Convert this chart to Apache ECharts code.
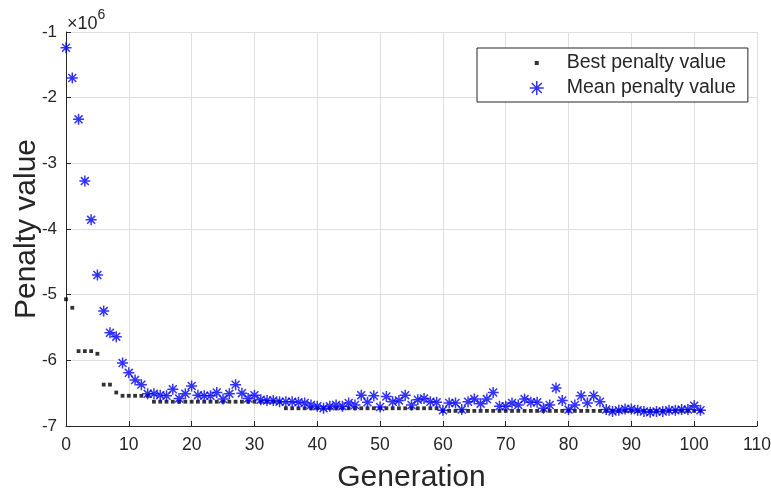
<!DOCTYPE html>
<html>
<head>
<meta charset="utf-8">
<script src="https://cdn.jsdelivr.net/npm/echarts@6/dist/echarts.min.js"></script>
<style>html,body{margin:0;padding:0;background:#fff}#c{width:771px;height:490px}</style>
</head>
<body>
<div id="c"></div>
<script>
// values in units of 1e6
const bestPenalty = [
  -5.07, -5.20, -5.86, -5.86, -5.86, -5.90, -6.37, -6.37, -6.49,
  -6.54, -6.54, -6.54, -6.54, -6.54,
  -6.63, -6.63, -6.63, -6.63, -6.63, -6.63, -6.63, -6.63, -6.63, -6.63, -6.63,
  -6.63, -6.63, -6.63, -6.63, -6.63, -6.63, -6.63, -6.63, -6.63, -6.63,
  -6.73, -6.73, -6.73, -6.73, -6.73, -6.73, -6.73, -6.73, -6.73, -6.73, -6.73, -6.73, -6.73,
  -6.73, -6.73, -6.73, -6.73, -6.73, -6.73, -6.73, -6.73, -6.73, -6.73, -6.73, -6.73,
  -6.77, -6.77, -6.77, -6.77, -6.77, -6.77, -6.77, -6.77, -6.77, -6.77, -6.77, -6.77, -6.77, -6.77,
  -6.77, -6.77, -6.77, -6.77, -6.77, -6.77, -6.77, -6.77, -6.77, -6.77, -6.77, -6.77, -6.77, -6.77,
  -6.77, -6.77, -6.77, -6.77, -6.77, -6.77, -6.77, -6.77, -6.77, -6.77, -6.77, -6.77, -6.77, -6.77
];
const meanPenalty = [
  -1.24, -1.70, -2.33, -3.27, -3.86, -4.70, -5.25, -5.58, -5.64, -6.04,
  -6.19, -6.30, -6.37, -6.51, -6.51, -6.53, -6.54, -6.44, -6.58, -6.51,
  -6.39, -6.53, -6.54, -6.54, -6.49, -6.59, -6.51, -6.37, -6.50, -6.58,
  -6.53, -6.60, -6.61, -6.61, -6.63, -6.63, -6.63, -6.64, -6.65, -6.68,
  -6.70, -6.73, -6.70, -6.68, -6.70, -6.65, -6.68, -6.53, -6.64, -6.54,
  -6.71, -6.55, -6.63, -6.61, -6.53, -6.68, -6.60, -6.58, -6.63, -6.64,
  -6.76, -6.65, -6.65, -6.75, -6.63, -6.59, -6.66, -6.59, -6.49, -6.70,
  -6.70, -6.65, -6.68, -6.59, -6.64, -6.64, -6.73, -6.68, -6.42, -6.61,
  -6.75, -6.68, -6.54, -6.65, -6.54, -6.63, -6.75, -6.78, -6.76, -6.74,
  -6.74, -6.76, -6.78, -6.79, -6.78, -6.78, -6.76, -6.76, -6.75, -6.75,
  -6.69, -6.76
];
const scale = 1e6;
const xTicks = { min: 0, max: 110, interval: 10 };
const yTicks = { min: -7, max: -1, interval: 1 };
const seriesNames = ['Best penalty value', 'Mean penalty value'];

const toPairs = arr => arr.map((v, i) => [i, v * scale]);
const txt = '#262626';
const fontFam = '"Liberation Sans", Arial, Helvetica, sans-serif';
const asterisk = 'path://M0,-5L0,5M-5,0L5,0M-3.6,-3.6L3.6,3.6M-3.6,3.6L3.6,-3.6';
const smallSquare = 'path://M-7,-7M7,7M-2,-2L2,-2L2,2L-2,2Z';

const chart = echarts.init(document.getElementById('c'), null, { renderer: 'canvas' });
chart.setOption({
  animation: false,
  backgroundColor: '#fff',
  textStyle: { fontFamily: fontFam },
  grid: { left: 66, right: 14, top: 32, bottom: 64, containLabel: false, outerBoundsMode: 'none' },
  legend: {
    orient: 'vertical',
    left: 477, top: 48,
    padding: [5, 12, 4, 52],
    itemWidth: 50, itemHeight: 14, itemGap: 5,
    backgroundColor: '#fff',
    borderColor: txt, borderWidth: 1,
    textStyle: { color: txt, fontSize: 19.5, fontFamily: fontFam },
    data: [
      { name: seriesNames[0], icon: smallSquare, itemStyle: { color: '#000', borderWidth: 0 } },
      { name: seriesNames[1], icon: asterisk, itemStyle: { color: 'rgba(0,0,0,0)', borderColor: '#0000ff', borderWidth: 1.5 } }
    ]
  },
  graphic: [{
    type: 'text', left: 67, top: 8,
    style: {
      rich: {
        a: { fontSize: 18, fill: txt, fontFamily: fontFam, padding: [7, 0, 0, 0] },
        b: { fontSize: 14, fill: txt, fontFamily: fontFam, verticalAlign: 'top' }
      },
      text: '{a|×10}{b|6}'
    }
  }],
  xAxis: {
    type: 'value', min: xTicks.min, max: xTicks.max, interval: xTicks.interval,
    name: 'Generation', nameLocation: 'middle', nameGap: 37,
    nameTextStyle: { color: txt, fontSize: 30, fontFamily: fontFam },
    axisLine: { show: true, onZero: false, lineStyle: { color: txt, width: 1 } },
    axisTick: { show: true, inside: true, length: 5, lineStyle: { color: txt } },
    axisLabel: { color: txt, fontSize: 17.5, margin: 10, fontFamily: fontFam },
    splitLine: { show: true, lineStyle: { color: '#dfdfdf', width: 1 } }
  },
  yAxis: {
    type: 'value', min: yTicks.min * scale, max: yTicks.max * scale, interval: yTicks.interval * scale,
    name: 'Penalty value', nameLocation: 'middle', nameGap: 24, nameMoveOverlap: false,
    nameTextStyle: { color: txt, fontSize: 30, fontFamily: fontFam },
    axisLine: { show: true, onZero: false, lineStyle: { color: txt, width: 1 } },
    axisTick: { show: true, inside: true, length: 5, lineStyle: { color: txt } },
    axisLabel: { color: txt, fontSize: 17, margin: 9, fontFamily: fontFam, formatter: v => String(Math.round(v / scale)) },
    splitLine: { show: true, lineStyle: { color: '#dfdfdf', width: 1 } }
  },
  series: [
    {
      name: seriesNames[0], type: 'scatter', data: toPairs(bestPenalty),
      symbol: 'rect', symbolSize: 3.8,
      itemStyle: { color: '#000' }, z: 3
    },
    {
      name: seriesNames[1], type: 'scatter', data: toPairs(meanPenalty),
      symbol: asterisk, symbolSize: 11,
      itemStyle: { color: 'rgba(0,0,0,0)', borderColor: '#0000ff', borderWidth: 1.5 }, z: 4
    }
  ]
});
</script>
</body>
</html>
